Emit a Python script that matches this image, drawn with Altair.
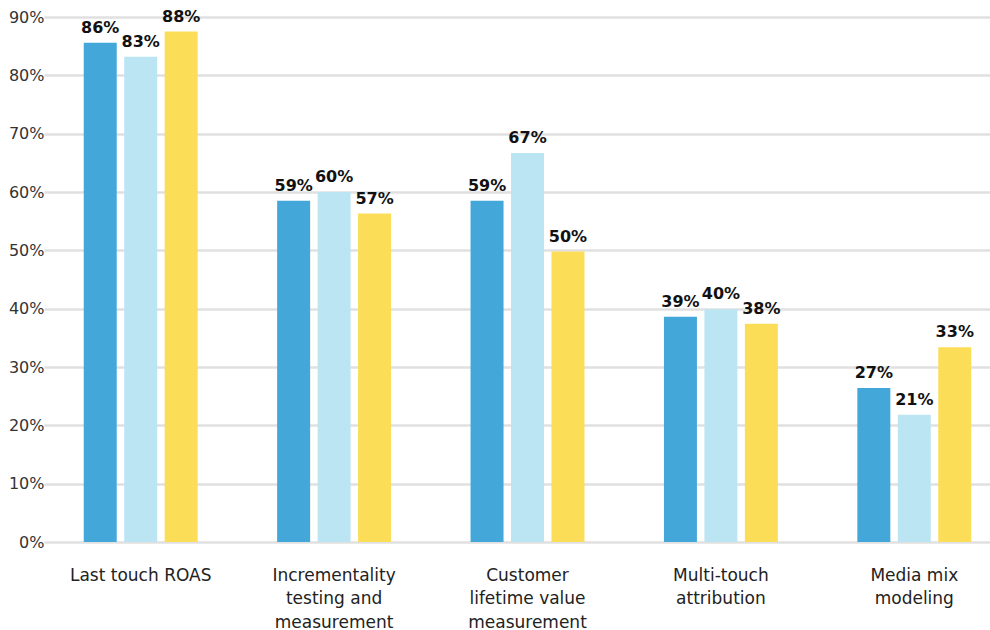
import altair as alt
import pandas as pd

categories = ["Last touch ROAS", "Incrementality testing and measurement",
              "Customer lifetime value measurement", "Multi-touch attribution",
              "Media mix modeling"]
category_lines = ["Last touch ROAS", "Incrementality\ntesting and\nmeasurement",
                  "Customer\nlifetime value\nmeasurement", "Multi-touch\nattribution",
                  "Media mix\nmodeling"]
series = ["Series 1", "Series 2", "Series 3"]
values_s1 = [85.6, 58.5, 58.5, 38.6, 26.4]
values_s2 = [83.2, 60.0, 66.7, 39.9, 21.8]
values_s3 = [87.5, 56.3, 49.8, 37.4, 33.4]
labels_s1 = ["86%", "59%", "59%", "39%", "27%"]
labels_s2 = ["83%", "60%", "67%", "40%", "21%"]
labels_s3 = ["88%", "57%", "50%", "38%", "33%"]
colors = ["#43A8D9", "#BCE5F4", "#FBDD58"]

rows = []
for s, vals, labs in zip(series, [values_s1, values_s2, values_s3],
                         [labels_s1, labels_s2, labels_s3]):
    for c, cl, v, l in zip(categories, category_lines, vals, labs):
        rows.append({"category": cl, "series": s, "value": v, "label": l})
df = pd.DataFrame(rows)

FONT = "DejaVu Sans"

x_enc = alt.X("category:N", sort=category_lines, title=None,
              scale=alt.Scale(range=[-12, 955], paddingInner=0, paddingOuter=0),
              axis=alt.Axis(labelExpr="split(datum.label, '\\n')", labelAngle=0,
                            labelFontSize=17, labelColor="#222", labelFont=FONT,
                            labelLineHeight=23.5, labelPadding=25, labelBaseline="top",
                            minExtent=87, maxExtent=87,
                            ticks=False, domain=False, grid=False, labelLimit=300))
xoff = alt.XOffset("series:N", sort=series,
                   scale=alt.Scale(paddingInner=0.18, paddingOuter=0.98))
y_enc = alt.Y("value:Q", title=None,
              scale=alt.Scale(domain=[0, 90], nice=False),
              axis=alt.Axis(values=list(range(0, 91, 10)), labelExpr="datum.value + '%'",
                            labelFontSize=16, labelColor="#333", labelFont=FONT,
                            labelPadding=12, ticks=False, domain=False,
                            minExtent=49, maxExtent=49,
                            gridColor="#E0E0E0", gridWidth=2.5))

base = alt.Chart(df).encode(x=x_enc, xOffset=xoff, y=y_enc)

bars = base.mark_bar(size=33).encode(
    color=alt.Color("series:N", sort=series,
                    scale=alt.Scale(domain=series, range=colors), legend=None))
text = base.mark_text(baseline="bottom", dy=-7, fontSize=16, fontWeight="bold",
                      font=FONT, color="#111").encode(text="label:N")

chart = (bars + text).properties(
    width=990, height=630,
    autosize=alt.AutoSizeParams(type="fit", contains="padding"),
    padding={"left": 7, "top": 9, "right": 0, "bottom": 0},
).configure_view(stroke=None)

chart.save("out.html", embed_options={"renderer": "svg", "actions": False})
